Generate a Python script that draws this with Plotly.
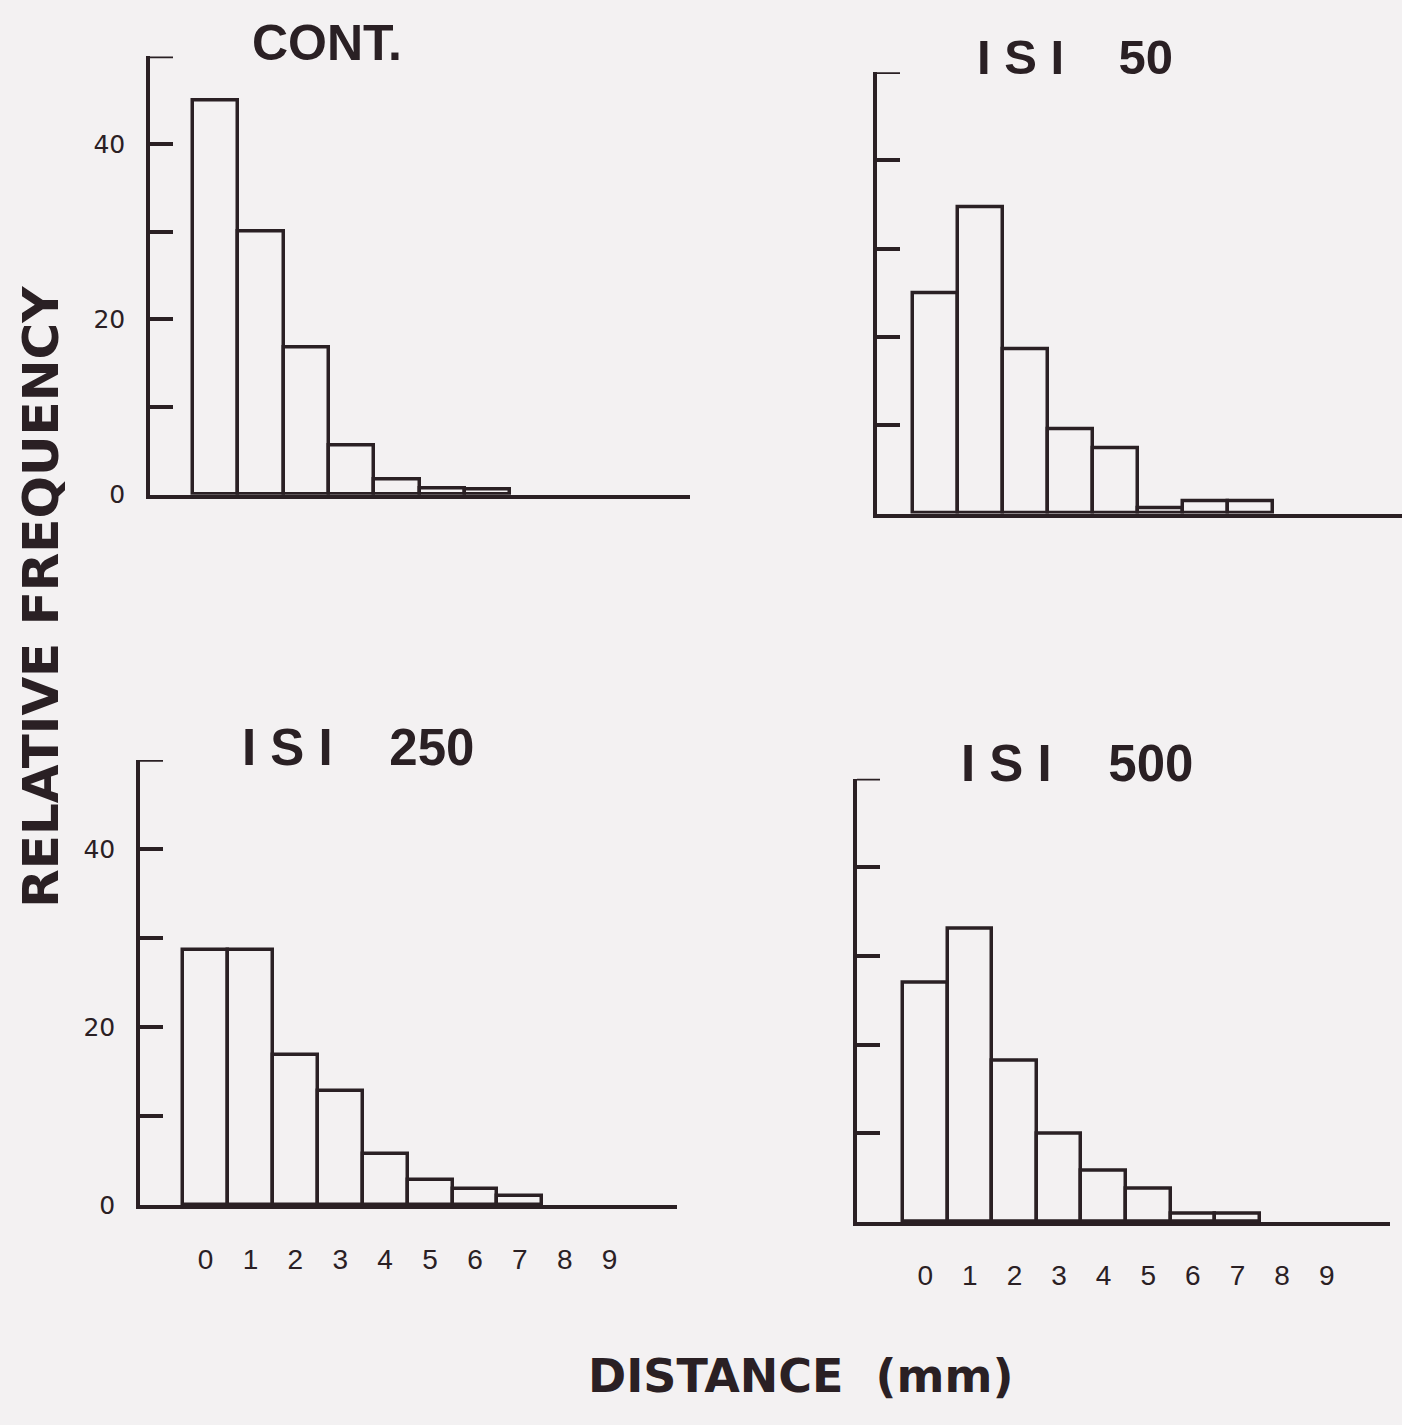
import plotly.graph_objects as go

# Relative frequency (%) of distances, binned per mm
distance_bins = [0, 1, 2, 3, 4, 5, 6, 7, 8, 9]
cont_freq = [45.0, 30.0, 16.8, 5.6, 1.7, 0.7, 0.6]
isi50_freq = [25.0, 34.7, 18.6, 9.6, 7.4, 0.6, 1.4, 1.4]
isi250_freq = [28.7, 28.7, 16.9, 12.8, 5.8, 2.8, 1.8, 1.0]
isi500_freq = [27.0, 33.1, 18.2, 10.0, 5.8, 3.7, 0.9, 0.9]

panel_titles = ["CONT.", "I\u00a0S\u00a0I\u00a0\u00a0\u00a0\u00a050",
                "I\u00a0S\u00a0I\u00a0\u00a0\u00a0\u00a0250", "I\u00a0S\u00a0I\u00a0\u00a0\u00a0\u00a0500"]
y_max = 50
y_tickvals = [0, 10, 20, 30, 40]
y_ticktext = ["0", "", "20", "", "40"]
x_ticktext = [str(b) for b in distance_bins]

W, H = 1402, 1425
BG = "#f3f1f2"
INK = "#2a2024"
LW = 3.5
TICKLEN = 23

# panel frames in pixels: (x_left, x_right), (y_top, y_bottom), x range
panels = [
    dict(data=cont_freq, px=(150, 690), py=(57, 500), xr=(-1.45, 10.47), ylab=True, xlab=False,
         title_xy=(327, 43), title_size=50),
    dict(data=isi50_freq, px=(877, 1402), py=(73, 519), xr=(-1.3, 10.38), ylab=False, xlab=False,
         title_xy=(1075, 58), title_size=49),
    dict(data=isi250_freq, px=(140, 677), py=(768, 1218), xr=(-1.46, 10.5), ylab=True, xlab=True,
         title_xy=(358, 755), title_size=51),
    dict(data=isi500_freq, px=(857, 1390), py=(787, 1235), xr=(-1.53, 10.42), ylab=False, xlab=True,
         title_xy=(1077, 772), title_size=51),
]

fig = go.Figure()
annotations = []
shapes = []

for i, p in enumerate(panels, start=1):
    xa = "x" if i == 1 else f"x{i}"
    ya = "y" if i == 1 else f"y{i}"
    vals = p["data"]
    fig.add_trace(go.Bar(
        x=distance_bins[:len(vals)], y=vals, width=1,
        marker=dict(color=BG, line=dict(color=INK, width=LW)),
        xaxis=xa, yaxis=ya, showlegend=False, hoverinfo="skip",
    ))
    xdom = [p["px"][0] / W, p["px"][1] / W]
    ydom = [1 - p["py"][1] / H, 1 - p["py"][0] / H]
    xkey = "xaxis" if i == 1 else f"xaxis{i}"
    ykey = "yaxis" if i == 1 else f"yaxis{i}"
    fig.update_layout(**{
        xkey: dict(domain=xdom, range=list(p["xr"]), anchor=ya,
                   showline=True, linecolor=INK, linewidth=LW,
                   showgrid=False, zeroline=False, ticks="",
                   tickvals=distance_bins, ticktext=x_ticktext,
                   showticklabels=p["xlab"], ticklabelstandoff=26,
                   tickfont=dict(family="Liberation Sans", size=28, color=INK)),
        ykey: dict(domain=ydom, range=[0, y_max], anchor=xa,
                   showline=True, linecolor=INK, linewidth=LW,
                   showgrid=False, zeroline=False,
                   ticks="inside", ticklen=TICKLEN, tickwidth=LW, tickcolor=INK,
                   tickvals=y_tickvals, ticktext=y_ticktext,
                   showticklabels=p["ylab"], ticklabelstandoff=16,
                   tickfont=dict(family="DejaVu Sans", size=25, color=INK)),
    })
    # closing tick at the top of the y axis
    shapes.append(dict(
        type="line", xref=xa, yref=ya, xsizemode="pixel", xanchor=p["xr"][0],
        x0=-LW / 2, x1=TICKLEN, y0=y_max, y1=y_max,
        line=dict(color=INK, width=LW),
    ))
    tx, ty = p["title_xy"]
    annotations.append(dict(
        text=panel_titles[i - 1], x=tx / W, y=1 - ty / H, xref="paper", yref="paper",
        xanchor="center", yanchor="middle", showarrow=False,
        font=dict(family="Liberation Sans", size=p["title_size"], color=INK, weight="bold"),
    ))

annotations.append(dict(
    text="RELATIVE FREQUENCY", x=41 / W, y=1 - 603 / H, xref="paper", yref="paper",
    xanchor="center", yanchor="middle", textangle=-90, showarrow=False,
    font=dict(family="DejaVu Sans", size=50, color=INK, weight="bold"),
))
annotations.append(dict(
    text="DISTANCE\u00a0\u00a0(mm)", x=800 / W, y=1 - 1391 / H, xref="paper", yref="paper",
    xanchor="center", yanchor="middle", showarrow=False,
    font=dict(family="DejaVu Sans", size=46, color=INK, weight="bold"),
))

fig.update_layout(
    width=W, height=H, margin=dict(l=0, r=0, t=0, b=0),
    paper_bgcolor=BG, plot_bgcolor="rgba(0,0,0,0)",
    bargap=0, annotations=annotations, shapes=shapes,
)

fig.write_html("out.html", config={"displayModeBar": False})
